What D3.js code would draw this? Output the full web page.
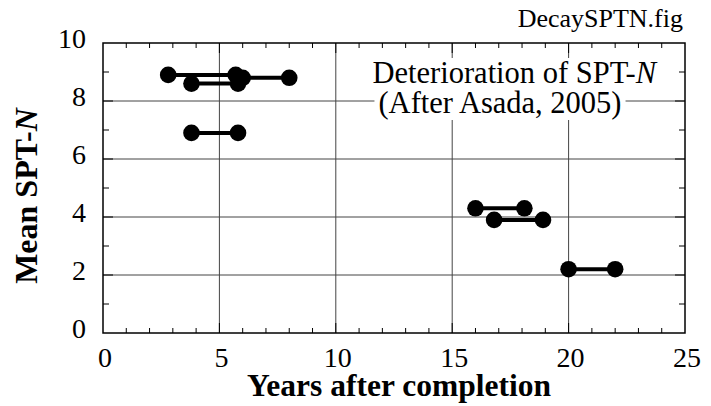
<!DOCTYPE html>
<html>
<head>
<meta charset="utf-8">
<script src="https://cdn.jsdelivr.net/npm/d3@7"></script>
<style>
  body { margin: 0; background: #fff; }
  svg text { font-family: "Liberation Serif", "Times New Roman", serif; fill: #000; }
</style>
</head>
<body>
<svg id="chart" width="711" height="406"></svg>
<script>
// Mean SPT-N before/after pairs: each segment joins two observations
const startYears = [2.8, 6.0, 3.8, 3.8, 16.0, 16.8, 20.0];
const endYears   = [5.7, 8.0, 5.8, 5.8, 18.1, 18.9, 22.0];
const meanN      = [8.9, 8.8, 8.6, 6.9, 4.3, 3.9, 2.2];

const xTicks = [0, 5, 10, 15, 20, 25];
const yTicks = [0, 2, 4, 6, 8, 10];

const serif = '"Liberation Serif", "Times New Roman", serif';
const svg = d3.select("#chart");
const m = { left: 103, right: 685, top: 43, bottom: 333 };

const x = d3.scaleLinear().domain([0, 25]).range([m.left, m.right]);
const y = d3.scaleLinear().domain([0, 10]).range([m.bottom, m.top]);

// grid lines at major ticks
const grid = svg.append("g").attr("stroke", "#444").attr("stroke-width", 1);
xTicks.slice(1, -1).forEach(t => grid.append("line")
  .attr("x1", x(t)).attr("x2", x(t)).attr("y1", m.top).attr("y2", m.bottom));
yTicks.slice(1, -1).forEach(t => grid.append("line")
  .attr("x1", m.left).attr("x2", m.right).attr("y1", y(t)).attr("y2", y(t)));

// annotation lines, each on an opaque background
const noteLayer = svg.append("g");
function note(txt, xPos, yPos, anchor, italicTail) {
  const g = noteLayer.append("g");
  const bg = g.append("rect").attr("fill", "#fff");
  const t = g.append("text").attr("x", xPos).attr("y", yPos)
    .attr("text-anchor", anchor).style("font-family", serif).style("font-size", "30.5px");
  t.append("tspan").text(txt);
  if (italicTail) t.append("tspan").style("font-style", "italic").text(italicTail);
  const b = t.node().getBBox();
  bg.attr("x", b.x - 4).attr("y", b.y + 2).attr("width", b.width + 8).attr("height", b.height - 2);
}
note("Deterioration of SPT-", 656, 83, "end", "N");
note("(After Asada, 2005)", 500, 113, "middle", null);

// inward ticks on all four sides (minor short, major long)
const ticks = svg.append("g").attr("stroke", "#000").attr("stroke-width", 1);
d3.range(1, 25).forEach(t => {
  const len = t % 5 === 0 ? 10 : 5;
  ticks.append("line").attr("x1", x(t)).attr("x2", x(t)).attr("y1", m.bottom).attr("y2", m.bottom - len);
  ticks.append("line").attr("x1", x(t)).attr("x2", x(t)).attr("y1", m.top).attr("y2", m.top + len);
});
d3.range(1, 10).forEach(t => {
  const len = t % 2 === 0 ? 10 : 6;
  ticks.append("line").attr("x1", m.left).attr("x2", m.left + len).attr("y1", y(t)).attr("y2", y(t));
  ticks.append("line").attr("x1", m.right).attr("x2", m.right - len).attr("y1", y(t)).attr("y2", y(t));
});

// frame
svg.append("rect").attr("x", m.left).attr("y", m.top)
  .attr("width", m.right - m.left).attr("height", m.bottom - m.top)
  .attr("fill", "none").attr("stroke", "#000").attr("stroke-width", 1.5);

// axes (labels only; the frame draws the lines)
const xAxis = svg.append("g").attr("transform", `translate(0,${m.bottom})`)
  .call(d3.axisBottom(x).tickValues(xTicks).tickSize(0).tickPadding(0));
xAxis.attr("font-family", null).attr("font-size", null);
xAxis.select(".domain").remove();
xAxis.selectAll("text").style("font-family", serif).style("font-size", "28px")
  .attr("y", 34).attr("dy", 0).attr("dx", 1.5);

const yAxis = svg.append("g").attr("transform", `translate(${m.left},0)`)
  .call(d3.axisLeft(y).tickValues(yTicks).tickSize(0).tickPadding(17));
yAxis.attr("font-family", null).attr("font-size", null);
yAxis.select(".domain").remove();
yAxis.selectAll("text").style("font-family", serif).style("font-size", "28px").attr("dy", 4);

// segments and end markers
const rows = meanN.map((v, i) => ({ x0: startYears[i], x1: endYears[i], v }));
svg.append("g").selectAll("line").data(rows).join("line")
  .attr("x1", d => x(d.x0)).attr("x2", d => x(d.x1))
  .attr("y1", d => y(d.v)).attr("y2", d => y(d.v))
  .attr("stroke", "#000").attr("stroke-width", 4);
const pts = rows.flatMap(d => [{ t: d.x0, v: d.v }, { t: d.x1, v: d.v }]);
svg.append("g").selectAll("circle").data(pts).join("circle")
  .attr("cx", d => x(d.t)).attr("cy", d => y(d.v)).attr("r", 8.3).attr("fill", "#000");

// titles
svg.append("text").attr("x", 399).attr("y", 396)
  .attr("text-anchor", "middle").style("font-family", serif)
  .style("font-size", "31.5px").style("font-weight", "bold")
  .text("Years after completion");
const yt = svg.append("text").attr("transform", "translate(37,196) rotate(-90)")
  .attr("text-anchor", "middle").style("font-family", serif)
  .style("font-size", "32px").style("font-weight", "bold");
yt.append("tspan").text("Mean SPT-");
yt.append("tspan").style("font-style", "italic").text("N");

svg.append("text").attr("x", 683).attr("y", 27).attr("text-anchor", "end")
  .style("font-family", serif).style("font-size", "26px").text("DecaySPTN.fig");
</script>
</body>
</html>
